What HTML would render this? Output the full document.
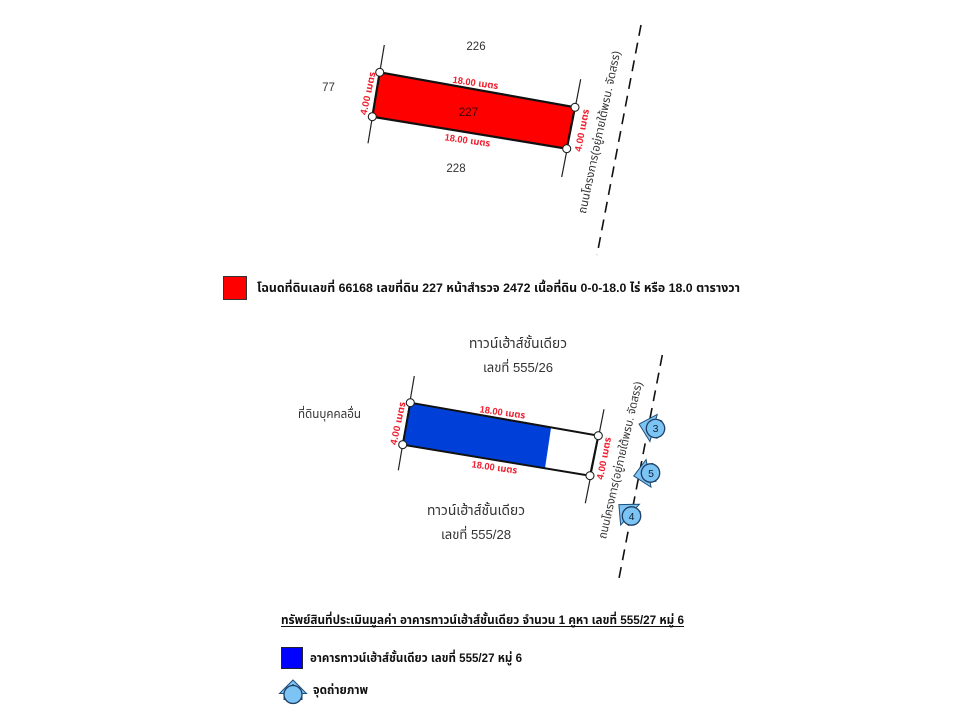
<!DOCTYPE html>
<html><head><meta charset="utf-8"><style>
html,body{margin:0;padding:0;background:#fff}
svg{display:block;filter:blur(.3px)}
text{font-family:"Liberation Sans","Noto Sans Thai","Noto Sans CJK SC",sans-serif;fill:#333}
.r{fill:#f02030;font-size:9.5px;font-weight:bold}
.b{fill:#111;font-weight:bold;font-size:12px}
</style></head><body>
<svg width="960" height="720" viewBox="0 0 960 720" xmlns="http://www.w3.org/2000/svg">
<defs>
<g id="m"><polygon points="0,-17 14,-2 9,-2 9,4 -9,4 -9,-2 -14,-2" fill="#7cc4f4" stroke="#1f4e79" stroke-width="1"/><circle r="9.2" fill="#7cc4f4" stroke="#1f3f66" stroke-width="1.3"/></g>
<g id="l"><polygon points="0,-13.5 13.5,0 9,0 9,6 -9,6 -9,0 -13.5,0" fill="#7cc4f4" stroke="#1f4e79" stroke-width="1"/><polyline points="-9,-1 0,-9 9,-1" fill="none" stroke="#1f4e79" stroke-width="1"/><circle r="9" cy="1" fill="#7cc4f4" stroke="#1f3f66" stroke-width="1.3"/></g>
</defs>
<!-- top plot -->
<line x1="384.3" y1="45" x2="368" y2="143.3" stroke="#222" stroke-width="1.2"/>
<line x1="580.7" y1="79.3" x2="561.7" y2="177" stroke="#222" stroke-width="1.2"/>
<line x1="641" y1="25" x2="597" y2="255" stroke="#111" stroke-width="1.6" stroke-dasharray="11 7"/>
<polygon points="379.7,72.3 575,107.3 566.7,148.7 372.3,116.7" fill="#ff0000" stroke="#111" stroke-width="2.2"/>
<g fill="#fff" stroke="#222" stroke-width="1.1"><circle cx="379.7" cy="72.3" r="4"/><circle cx="575" cy="107.3" r="4"/><circle cx="566.7" cy="148.7" r="4"/><circle cx="372.3" cy="116.7" r="4"/></g>
<text x="476" y="50" font-size="11.5" text-anchor="middle">226</text>
<text x="328.5" y="91" font-size="11.5" text-anchor="middle">77</text>
<text x="468.5" y="116" font-size="11.5" text-anchor="middle" style="fill:#400">227</text>
<text x="456" y="172" font-size="11.5" text-anchor="middle">228</text>
<text class="r" transform="translate(475,86) rotate(8)" text-anchor="middle" textLength="46" lengthAdjust="spacingAndGlyphs">18.00 เมตร</text>
<text class="r" transform="translate(467,143.5) rotate(8)" text-anchor="middle" textLength="46" lengthAdjust="spacingAndGlyphs">18.00 เมตร</text>
<text class="r" transform="translate(371,94) rotate(-78)" text-anchor="middle" textLength="44" lengthAdjust="spacingAndGlyphs">4.00 เมตร</text>
<text class="r" transform="translate(585,131) rotate(-79)" text-anchor="middle" textLength="43" lengthAdjust="spacingAndGlyphs">4.00 เมตร</text>
<text transform="translate(603,133) rotate(-78)" font-size="11.5" text-anchor="middle" textLength="166" lengthAdjust="spacingAndGlyphs">ถนนโครงการ(อยู่ภายใต้พรบ. จัดสรร)</text>
<!-- legend 1 -->
<rect x="223.5" y="276.5" width="23" height="23" fill="#ff0000" stroke="#333" stroke-width="1"/>
<text class="b" x="257" y="292" textLength="483" lengthAdjust="spacingAndGlyphs">โฉนดที่ดินเลขที่ 66168 เลขที่ดิน 227 หน้าสำรวจ 2472 เนื้อที่ดิน 0-0-18.0 ไร่ หรือ 18.0 ตารางวา</text>
<!-- bottom plot -->
<line x1="414.3" y1="376" x2="398.3" y2="470.3" stroke="#222" stroke-width="1.2"/>
<line x1="604" y1="409.3" x2="585.3" y2="503.3" stroke="#222" stroke-width="1.2"/>
<line x1="662.3" y1="355" x2="619" y2="578.3" stroke="#111" stroke-width="1.6" stroke-dasharray="11 7"/>
<polygon points="410.3,402.7 551,428 545,468.3 402.7,444.7" fill="#0040d8"/>
<polygon points="410.3,402.7 598.3,435.7 590,475.7 402.7,444.7" fill="none" stroke="#111" stroke-width="2"/>
<g fill="#fff" stroke="#222" stroke-width="1.1"><circle cx="410.3" cy="402.7" r="4"/><circle cx="598.3" cy="435.7" r="4"/><circle cx="590" cy="475.7" r="4"/><circle cx="402.7" cy="444.7" r="4"/></g>
<text class="r" transform="translate(502,415.5) rotate(8)" text-anchor="middle" textLength="46" lengthAdjust="spacingAndGlyphs">18.00 เมตร</text>
<text class="r" transform="translate(494,470.5) rotate(8)" text-anchor="middle" textLength="46" lengthAdjust="spacingAndGlyphs">18.00 เมตร</text>
<text class="r" transform="translate(401,424) rotate(-78)" text-anchor="middle" textLength="44" lengthAdjust="spacingAndGlyphs">4.00 เมตร</text>
<text class="r" transform="translate(607,459) rotate(-79)" text-anchor="middle" textLength="43" lengthAdjust="spacingAndGlyphs">4.00 เมตร</text>
<text transform="translate(624,461) rotate(-77)" font-size="11.5" text-anchor="middle" textLength="161" lengthAdjust="spacingAndGlyphs">ถนนโครงการ(อยู่ภายใต้พรบ. จัดสรร)</text>
<text x="518" y="348" font-size="14" text-anchor="middle" textLength="98" lengthAdjust="spacingAndGlyphs">ทาวน์เฮ้าส์ชั้นเดียว</text>
<text x="518" y="372" font-size="13" text-anchor="middle" textLength="70" lengthAdjust="spacingAndGlyphs">เลขที่ 555/26</text>
<text x="329.5" y="418" font-size="12" text-anchor="middle" textLength="63" lengthAdjust="spacingAndGlyphs">ที่ดินบุคคลอื่น</text>
<text x="476" y="515" font-size="14" text-anchor="middle" textLength="98" lengthAdjust="spacingAndGlyphs">ทาวน์เฮ้าส์ชั้นเดียว</text>
<text x="476" y="539" font-size="13" text-anchor="middle" textLength="70" lengthAdjust="spacingAndGlyphs">เลขที่ 555/28</text>
<use href="#m" transform="translate(655.5,428.5) rotate(-75)"/>
<use href="#m" transform="translate(650.5,473) rotate(-100)"/>
<use href="#m" transform="translate(631.5,516) rotate(-48)"/>
<text x="655.5" y="432" font-size="10.5" text-anchor="middle" style="fill:#123">3</text>
<text x="651" y="477" font-size="10.5" text-anchor="middle" style="fill:#123">5</text>
<text x="631.5" y="520" font-size="10.5" text-anchor="middle" style="fill:#123">4</text>
<!-- legend 2 -->
<text class="b" x="281" y="624" textLength="403" lengthAdjust="spacingAndGlyphs">ทรัพย์สินที่ประเมินมูลค่า อาคารทาวน์เฮ้าส์ชั้นเดียว จำนวน 1 คูหา เลขที่ 555/27 หมู่ 6</text>
<line x1="281" y1="626.5" x2="684" y2="626.5" stroke="#111" stroke-width="1"/>
<rect x="281.5" y="647.5" width="21" height="21" fill="#0000ff" stroke="#223" stroke-width="1"/>
<text class="b" x="310" y="662" textLength="212" lengthAdjust="spacingAndGlyphs">อาคารทาวน์เฮ้าส์ชั้นเดียว เลขที่ 555/27 หมู่ 6</text>
<use href="#l" transform="translate(293,693.5)"/>
<text class="b" x="313" y="694" textLength="55" lengthAdjust="spacingAndGlyphs">จุดถ่ายภาพ</text>
</svg>
</body></html>
